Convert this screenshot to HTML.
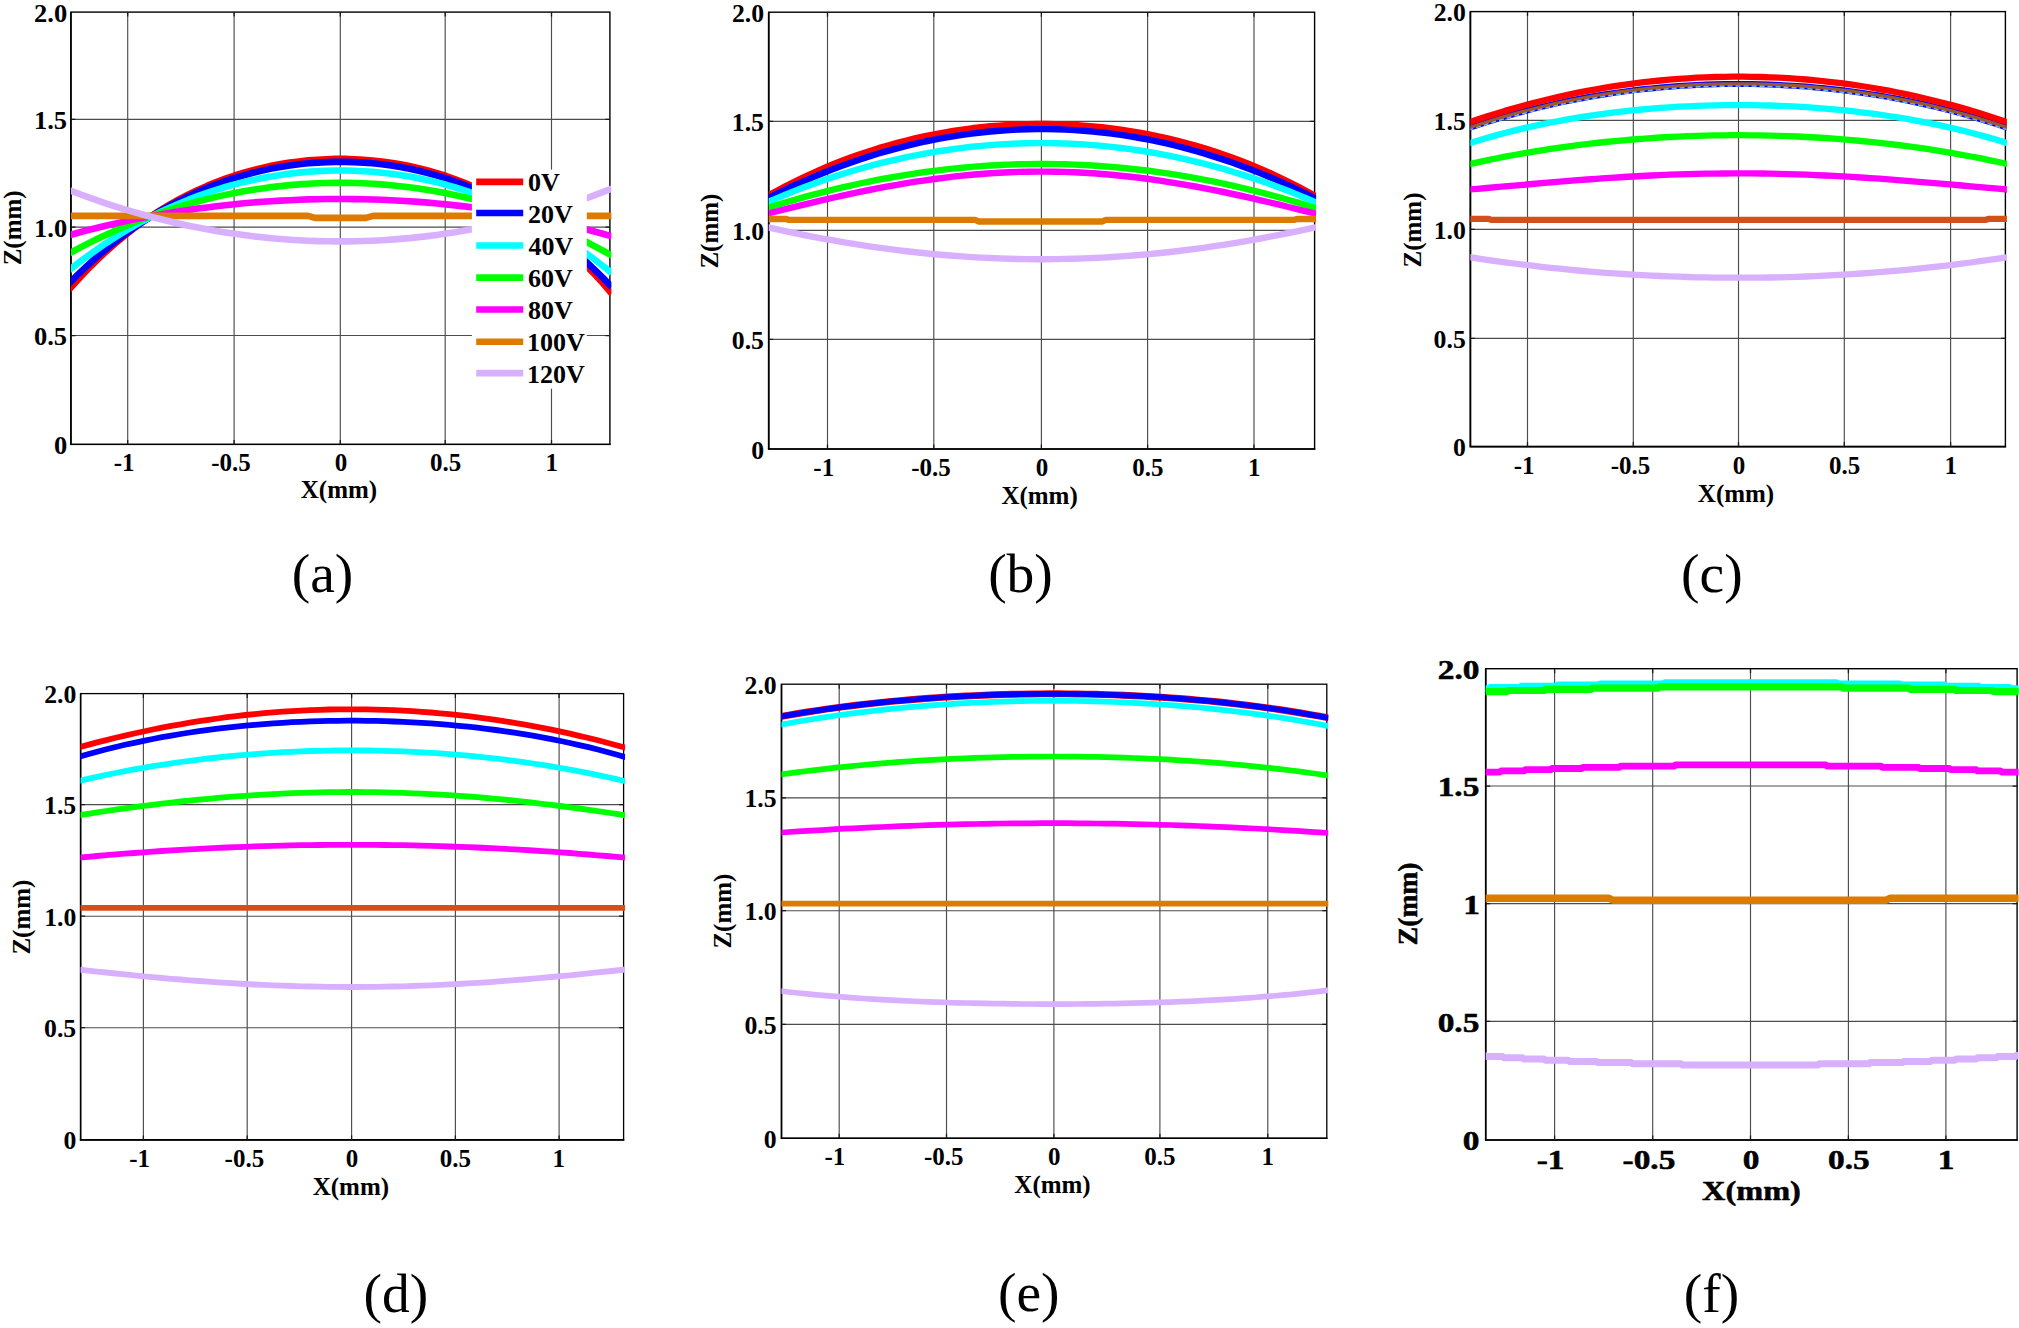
<!DOCTYPE html>
<html lang="en"><head><meta charset="utf-8"><title>Figure</title>
<style>html,body{margin:0;padding:0;background:#fff}svg{display:block}</style></head>
<body>
<svg width="2019" height="1328" viewBox="0 0 2019 1328" font-family="'Liberation Serif', 'Times New Roman', serif" style="font-kerning:none" fill="#000">
<rect width="2019" height="1328" fill="#fff"/>
<g id="pa">
<clipPath id="ca"><rect x="70.9" y="12.1" width="540.5" height="432.3"/></clipPath>
<path d="M127.7 12.1V444.4M234.1 12.1V444.4M340.3 12.1V444.4M445.2 12.1V444.4M551.5 12.1V444.4M70.9 119.3H609.9M70.9 227.1H609.9M70.9 335.5H609.9" stroke="#4c4c4c" stroke-width="1.15" fill="none"/>
<rect x="70.9" y="12.1" width="539.0" height="432.3" fill="none" stroke="#000" stroke-width="1.4"/>
<path d="M70.9 12.1V444.4" stroke="#000" stroke-width="1.6" fill="none"/><path d="M70.1 444.4H610.6" stroke="#000" stroke-width="1.4" fill="none"/>
<path d="M127.7 444.4v-4.5M127.7 12.1v4.5M234.1 444.4v-4.5M234.1 12.1v4.5M340.3 444.4v-4.5M340.3 12.1v4.5M445.2 444.4v-4.5M445.2 12.1v4.5M551.5 444.4v-4.5M551.5 12.1v4.5M70.9 119.3h4.5M609.9 119.3h-4.5M70.9 227.1h4.5M609.9 227.1h-4.5M70.9 335.5h4.5M609.9 335.5h-4.5" stroke="#1a1a1a" stroke-width="1.25" fill="none"/>
<g clip-path="url(#ca)" fill="none" stroke-linejoin="round">
<path d="M68.9 289.7 L78.1 279.5 L87.3 269.7 L96.5 260.6 L105.7 251.9 L114.9 243.8 L124.1 236.1 L133.3 228.9 L142.5 222.1 L151.7 215.8 L160.9 209.9 L170.1 204.4 L179.3 199.2 L188.5 194.4 L197.7 190.0 L207.0 185.9 L216.2 182.1 L225.4 178.7 L234.6 175.5 L243.8 172.7 L253.0 170.1 L262.2 167.9 L271.4 165.8 L280.6 164.1 L289.8 162.6 L299.0 161.4 L308.2 160.4 L317.4 159.7 L326.6 159.2 L335.8 158.9 L345.0 158.9 L354.2 159.2 L363.4 159.7 L372.6 160.5 L381.8 161.5 L391.0 162.7 L400.2 164.3 L409.4 166.1 L418.6 168.1 L427.8 170.5 L437.0 173.1 L446.2 176.0 L455.4 179.3 L464.6 182.8 L473.8 186.7 L483.1 190.9 L492.3 195.5 L501.5 200.4 L510.7 205.7 L519.9 211.4 L529.1 217.5 L538.3 224.0 L547.5 231.0 L556.7 238.4 L565.9 246.3 L575.1 254.7 L584.3 263.6 L593.5 273.1 L602.7 283.1 L611.9 293.8" stroke="#FF0000" stroke-width="6.6"/>
<path d="M68.9 283.6 L78.1 274.3 L87.3 265.6 L96.5 257.3 L105.7 249.4 L114.9 242.0 L124.1 234.9 L133.3 228.3 L142.5 222.0 L151.7 216.1 L160.9 210.6 L170.1 205.4 L179.3 200.6 L188.5 196.1 L197.7 191.8 L207.0 187.9 L216.2 184.3 L225.4 181.0 L234.6 178.0 L243.8 175.3 L253.0 172.8 L262.2 170.6 L271.4 168.6 L280.6 166.9 L289.8 165.5 L299.0 164.2 L308.2 163.3 L317.4 162.6 L326.6 162.1 L335.8 161.9 L345.0 161.9 L354.2 162.1 L363.4 162.6 L372.6 163.3 L381.8 164.3 L391.0 165.6 L400.2 167.1 L409.4 168.8 L418.6 170.8 L427.8 173.1 L437.0 175.6 L446.2 178.5 L455.4 181.6 L464.6 185.0 L473.8 188.7 L483.1 192.7 L492.3 197.0 L501.5 201.7 L510.7 206.7 L519.9 212.0 L529.1 217.7 L538.3 223.7 L547.5 230.2 L556.7 237.0 L565.9 244.3 L575.1 251.9 L584.3 260.0 L593.5 268.6 L602.7 277.6 L611.9 287.2" stroke="#0000FF" stroke-width="6.6"/>
<path d="M68.9 270.4 L78.1 263.2 L87.3 256.3 L96.5 249.7 L105.7 243.4 L114.9 237.4 L124.1 231.7 L133.3 226.3 L142.5 221.2 L151.7 216.4 L160.9 211.8 L170.1 207.5 L179.3 203.5 L188.5 199.7 L197.7 196.2 L207.0 192.9 L216.2 189.8 L225.4 187.0 L234.6 184.4 L243.8 182.1 L253.0 180.0 L262.2 178.1 L271.4 176.4 L280.6 174.9 L289.8 173.6 L299.0 172.6 L308.2 171.8 L317.4 171.1 L326.6 170.7 L335.8 170.5 L345.0 170.5 L354.2 170.7 L363.4 171.2 L372.6 171.8 L381.8 172.7 L391.0 173.7 L400.2 175.0 L409.4 176.5 L418.6 178.3 L427.8 180.2 L437.0 182.4 L446.2 184.8 L455.4 187.5 L464.6 190.4 L473.8 193.5 L483.1 196.9 L492.3 200.5 L501.5 204.4 L510.7 208.5 L519.9 213.0 L529.1 217.6 L538.3 222.6 L547.5 227.9 L556.7 233.4 L565.9 239.2 L575.1 245.4 L584.3 251.9 L593.5 258.7 L602.7 265.8 L611.9 273.3" stroke="#00FFFF" stroke-width="6.6"/>
<path d="M68.9 253.7 L78.1 248.7 L87.3 243.9 L96.5 239.3 L105.7 234.9 L114.9 230.7 L124.1 226.7 L133.3 222.9 L142.5 219.3 L151.7 215.9 L160.9 212.6 L170.1 209.6 L179.3 206.7 L188.5 204.0 L197.7 201.5 L207.0 199.1 L216.2 196.9 L225.4 194.9 L234.6 193.0 L243.8 191.3 L253.0 189.8 L262.2 188.4 L271.4 187.1 L280.6 186.1 L289.8 185.1 L299.0 184.4 L308.2 183.8 L317.4 183.3 L326.6 183.0 L335.8 182.9 L345.0 182.9 L354.2 183.0 L363.4 183.3 L372.6 183.8 L381.8 184.4 L391.0 185.2 L400.2 186.2 L409.4 187.3 L418.6 188.5 L427.8 190.0 L437.0 191.5 L446.2 193.3 L455.4 195.2 L464.6 197.3 L473.8 199.5 L483.1 202.0 L492.3 204.6 L501.5 207.4 L510.7 210.3 L519.9 213.5 L529.1 216.8 L538.3 220.3 L547.5 224.0 L556.7 227.9 L565.9 232.0 L575.1 236.3 L584.3 240.8 L593.5 245.6 L602.7 250.5 L611.9 255.6" stroke="#00FF00" stroke-width="6.6"/>
<path d="M68.9 235.3 L78.1 232.8 L87.3 230.3 L96.5 228.0 L105.7 225.8 L114.9 223.6 L124.1 221.6 L133.3 219.6 L142.5 217.8 L151.7 216.0 L160.9 214.4 L170.1 212.8 L179.3 211.3 L188.5 209.9 L197.7 208.6 L207.0 207.4 L216.2 206.2 L225.4 205.2 L234.6 204.2 L243.8 203.3 L253.0 202.5 L262.2 201.8 L271.4 201.2 L280.6 200.6 L289.8 200.2 L299.0 199.8 L308.2 199.4 L317.4 199.2 L326.6 199.0 L335.8 199.0 L345.0 199.0 L354.2 199.1 L363.4 199.2 L372.6 199.5 L381.8 199.8 L391.0 200.2 L400.2 200.7 L409.4 201.3 L418.6 201.9 L427.8 202.6 L437.0 203.5 L446.2 204.4 L455.4 205.4 L464.6 206.4 L473.8 207.6 L483.1 208.9 L492.3 210.2 L501.5 211.6 L510.7 213.2 L519.9 214.8 L529.1 216.5 L538.3 218.3 L547.5 220.2 L556.7 222.2 L565.9 224.3 L575.1 226.5 L584.3 228.8 L593.5 231.2 L602.7 233.7 L611.9 236.3" stroke="#FF00FF" stroke-width="6.6"/>
<path d="M60.0 215.9 L308.0 215.9 L315.0 217.9 L366.0 217.9 L373.0 215.9 L620.0 215.9" stroke="#DD7A00" stroke-width="6.6"/>
<path d="M68.9 190.0 L78.1 193.5 L87.3 196.9 L96.5 200.1 L105.7 203.3 L114.9 206.3 L124.1 209.1 L133.3 211.9 L142.5 214.5 L151.7 217.0 L160.9 219.3 L170.1 221.5 L179.3 223.7 L188.5 225.7 L197.7 227.5 L207.0 229.3 L216.2 230.9 L225.4 232.4 L234.6 233.8 L243.8 235.1 L253.0 236.2 L262.2 237.3 L271.4 238.2 L280.6 239.0 L289.8 239.7 L299.0 240.3 L308.2 240.7 L317.4 241.1 L326.6 241.3 L335.8 241.4 L345.0 241.4 L354.2 241.3 L363.4 241.0 L372.6 240.7 L381.8 240.2 L391.0 239.6 L400.2 238.9 L409.4 238.1 L418.6 237.1 L427.8 236.1 L437.0 234.9 L446.2 233.6 L455.4 232.2 L464.6 230.6 L473.8 228.9 L483.1 227.1 L492.3 225.2 L501.5 223.2 L510.7 221.0 L519.9 218.7 L529.1 216.3 L538.3 213.8 L547.5 211.1 L556.7 208.3 L565.9 205.3 L575.1 202.3 L584.3 199.1 L593.5 195.7 L602.7 192.2 L611.9 188.6" stroke="#D9B0FF" stroke-width="6.6"/>
</g>
<rect x="471.9" y="169.6" width="114.9" height="219.1" fill="#fff"/><path d="M476.2 181.9H523.2" stroke="#FF0000" stroke-width="6.6" fill="none"/><path d="M476.2 213.0H523.2" stroke="#0000FF" stroke-width="6.6" fill="none"/><path d="M476.2 245.5H523.2" stroke="#00FFFF" stroke-width="6.6" fill="none"/><path d="M476.2 277.6H523.2" stroke="#00FF00" stroke-width="6.6" fill="none"/><path d="M476.2 309.5H523.2" stroke="#FF00FF" stroke-width="6.6" fill="none"/><path d="M476.2 341.8H523.2" stroke="#DD7A00" stroke-width="6.6" fill="none"/><path d="M476.2 373.1H523.2" stroke="#D9B0FF" stroke-width="6.6" fill="none"/>
<text transform="translate(113.65 471.00)" font-size="25" font-weight="bold">-1</text>
<text transform="translate(211.29 471.00)" font-size="25" font-weight="bold">-0.5</text>
<text transform="translate(334.75 471.00)" font-size="25" font-weight="bold">0</text>
<text transform="translate(430.01 471.00)" font-size="25" font-weight="bold">0.5</text>
<text transform="translate(545.58 471.00)" font-size="25" font-weight="bold">1</text>
<text transform="translate(34.03 21.65) scale(1.0600 1.0000)" font-size="25" font-weight="bold">2.0</text>
<text transform="translate(33.90 128.85) scale(1.0600 1.0000)" font-size="25" font-weight="bold">1.5</text>
<text transform="translate(34.03 236.60) scale(1.0600 1.0000)" font-size="25" font-weight="bold">1.0</text>
<text transform="translate(33.90 345.05) scale(1.0600 1.0000)" font-size="25" font-weight="bold">0.5</text>
<text transform="translate(53.91 453.95) scale(1.0600 1.0000)" font-size="25" font-weight="bold">0</text>
<text transform="translate(300.82 498.00)" font-size="25" font-weight="bold">X(mm)</text>
<text transform="translate(21.20 265.30) rotate(-90)" font-size="25" font-weight="bold">Z(mm)</text>
<text transform="translate(291.70 592.40)" font-size="55.5" font-weight="normal">(a)</text>
</g>
<text transform="translate(527.96 190.50)" font-size="26" font-weight="bold">0V</text>
<text transform="translate(527.96 222.65)" font-size="26" font-weight="bold">20V</text>
<text transform="translate(528.61 254.80)" font-size="26" font-weight="bold">40V</text>
<text transform="translate(528.09 286.95)" font-size="26" font-weight="bold">60V</text>
<text transform="translate(528.09 319.10)" font-size="26" font-weight="bold">80V</text>
<text transform="translate(526.92 351.25)" font-size="26" font-weight="bold">100V</text>
<text transform="translate(526.92 383.40)" font-size="26" font-weight="bold">120V</text>
<g id="pb">
<clipPath id="cb"><rect x="768.7" y="12.2" width="547.4" height="436.8"/></clipPath>
<path d="M827.5 12.2V449.0M933.8 12.2V449.0M1041.4 12.2V449.0M1147.6 12.2V449.0M1254.0 12.2V449.0M768.7 121.3H1314.6M768.7 230.4H1314.6M768.7 339.3H1314.6" stroke="#4c4c4c" stroke-width="1.15" fill="none"/>
<rect x="768.7" y="12.2" width="545.9" height="436.8" fill="none" stroke="#000" stroke-width="1.4"/>
<path d="M768.7 12.2V449.0" stroke="#000" stroke-width="1.7" fill="none"/><path d="M767.9 449.0H1315.3" stroke="#000" stroke-width="1.7" fill="none"/>
<path d="M827.5 449.0v-4.5M827.5 12.2v4.5M933.8 449.0v-4.5M933.8 12.2v4.5M1041.4 449.0v-4.5M1041.4 12.2v4.5M1147.6 449.0v-4.5M1147.6 12.2v4.5M1254.0 449.0v-4.5M1254.0 12.2v4.5M768.7 121.3h4.5M1314.6 121.3h-4.5M768.7 230.4h4.5M1314.6 230.4h-4.5M768.7 339.3h4.5M1314.6 339.3h-4.5" stroke="#1a1a1a" stroke-width="1.25" fill="none"/>
<g clip-path="url(#cb)" fill="none" stroke-linejoin="round">
<path d="M766.7 196.5 L776.0 191.3 L785.3 186.4 L794.7 181.6 L804.0 177.1 L813.3 172.8 L822.6 168.7 L831.9 164.8 L841.3 161.1 L850.6 157.6 L859.9 154.3 L869.2 151.2 L878.5 148.2 L887.9 145.5 L897.2 142.9 L906.5 140.5 L915.8 138.2 L925.1 136.2 L934.5 134.3 L943.8 132.6 L953.1 131.0 L962.4 129.6 L971.7 128.3 L981.1 127.2 L990.4 126.3 L999.7 125.6 L1009.0 124.9 L1018.3 124.5 L1027.7 124.2 L1037.0 124.0 L1046.3 124.0 L1055.6 124.2 L1065.0 124.5 L1074.3 125.0 L1083.6 125.6 L1092.9 126.4 L1102.2 127.3 L1111.6 128.4 L1120.9 129.7 L1130.2 131.1 L1139.5 132.6 L1148.8 134.4 L1158.2 136.3 L1167.5 138.4 L1176.8 140.6 L1186.1 143.0 L1195.4 145.6 L1204.8 148.4 L1214.1 151.3 L1223.4 154.5 L1232.7 157.8 L1242.0 161.3 L1251.4 165.0 L1260.7 168.9 L1270.0 173.0 L1279.3 177.4 L1288.6 181.9 L1298.0 186.6 L1307.3 191.6 L1316.6 196.8" stroke="#FF0000" stroke-width="6.4"/>
<path d="M766.7 198.7 L776.0 194.1 L785.3 189.6 L794.7 185.2 L804.0 181.1 L813.3 177.1 L822.6 173.2 L831.9 169.5 L841.3 166.0 L850.6 162.7 L859.9 159.5 L869.2 156.4 L878.5 153.5 L887.9 150.8 L897.2 148.3 L906.5 145.9 L915.8 143.6 L925.1 141.5 L934.5 139.6 L943.8 137.9 L953.1 136.3 L962.4 134.8 L971.7 133.6 L981.1 132.5 L990.4 131.5 L999.7 130.7 L1009.0 130.1 L1018.3 129.6 L1027.7 129.3 L1037.0 129.1 L1046.3 129.1 L1055.6 129.3 L1065.0 129.6 L1074.3 130.1 L1083.6 130.7 L1092.9 131.6 L1102.2 132.5 L1111.6 133.6 L1120.9 134.9 L1130.2 136.4 L1139.5 138.0 L1148.8 139.7 L1158.2 141.7 L1167.5 143.7 L1176.8 146.0 L1186.1 148.4 L1195.4 151.0 L1204.8 153.7 L1214.1 156.6 L1223.4 159.6 L1232.7 162.8 L1242.0 166.2 L1251.4 169.7 L1260.7 173.4 L1270.0 177.3 L1279.3 181.3 L1288.6 185.5 L1298.0 189.8 L1307.3 194.3 L1316.6 199.0" stroke="#0000FF" stroke-width="6.4"/>
<path d="M766.7 202.6 L776.0 198.6 L785.3 194.7 L794.7 190.9 L804.0 187.3 L813.3 183.9 L822.6 180.6 L831.9 177.4 L841.3 174.4 L850.6 171.5 L859.9 168.8 L869.2 166.2 L878.5 163.7 L887.9 161.4 L897.2 159.3 L906.5 157.2 L915.8 155.3 L925.1 153.6 L934.5 151.9 L943.8 150.5 L953.1 149.1 L962.4 147.9 L971.7 146.8 L981.1 145.9 L990.4 145.1 L999.7 144.4 L1009.0 143.9 L1018.3 143.5 L1027.7 143.2 L1037.0 143.1 L1046.3 143.1 L1055.6 143.2 L1065.0 143.5 L1074.3 143.9 L1083.6 144.4 L1092.9 145.1 L1102.2 145.9 L1111.6 146.9 L1120.9 148.0 L1130.2 149.2 L1139.5 150.5 L1148.8 152.0 L1158.2 153.7 L1167.5 155.4 L1176.8 157.3 L1186.1 159.4 L1195.4 161.6 L1204.8 163.9 L1214.1 166.3 L1223.4 168.9 L1232.7 171.7 L1242.0 174.6 L1251.4 177.6 L1260.7 180.7 L1270.0 184.1 L1279.3 187.5 L1288.6 191.1 L1298.0 194.9 L1307.3 198.8 L1316.6 202.8" stroke="#00FFFF" stroke-width="6.4"/>
<path d="M766.7 208.2 L776.0 205.3 L785.3 202.5 L794.7 199.8 L804.0 197.2 L813.3 194.7 L822.6 192.3 L831.9 189.9 L841.3 187.7 L850.6 185.6 L859.9 183.5 L869.2 181.6 L878.5 179.7 L887.9 178.0 L897.2 176.3 L906.5 174.8 L915.8 173.4 L925.1 172.0 L934.5 170.8 L943.8 169.6 L953.1 168.6 L962.4 167.7 L971.7 166.9 L981.1 166.1 L990.4 165.5 L999.7 165.0 L1009.0 164.6 L1018.3 164.3 L1027.7 164.1 L1037.0 164.0 L1046.3 164.0 L1055.6 164.1 L1065.0 164.3 L1074.3 164.6 L1083.6 165.0 L1092.9 165.5 L1102.2 166.2 L1111.6 166.9 L1120.9 167.7 L1130.2 168.7 L1139.5 169.7 L1148.8 170.8 L1158.2 172.1 L1167.5 173.4 L1176.8 174.9 L1186.1 176.4 L1195.4 178.1 L1204.8 179.8 L1214.1 181.7 L1223.4 183.6 L1232.7 185.7 L1242.0 187.8 L1251.4 190.1 L1260.7 192.4 L1270.0 194.8 L1279.3 197.4 L1288.6 200.0 L1298.0 202.7 L1307.3 205.5 L1316.6 208.4" stroke="#00FF00" stroke-width="6.4"/>
<path d="M766.7 213.8 L776.0 211.5 L785.3 209.2 L794.7 206.9 L804.0 204.6 L813.3 202.4 L822.6 200.2 L831.9 198.0 L841.3 195.9 L850.6 193.9 L859.9 191.9 L869.2 190.0 L878.5 188.2 L887.9 186.4 L897.2 184.8 L906.5 183.2 L915.8 181.7 L925.1 180.3 L934.5 179.0 L943.8 177.8 L953.1 176.6 L962.4 175.6 L971.7 174.7 L981.1 174.0 L990.4 173.3 L999.7 172.7 L1009.0 172.3 L1018.3 171.9 L1027.7 171.7 L1037.0 171.6 L1046.3 171.6 L1055.6 171.7 L1065.0 171.9 L1074.3 172.3 L1083.6 172.7 L1092.9 173.3 L1102.2 174.0 L1111.6 174.8 L1120.9 175.7 L1130.2 176.7 L1139.5 177.8 L1148.8 179.0 L1158.2 180.3 L1167.5 181.8 L1176.8 183.3 L1186.1 184.8 L1195.4 186.5 L1204.8 188.3 L1214.1 190.1 L1223.4 192.0 L1232.7 194.0 L1242.0 196.0 L1251.4 198.1 L1260.7 200.3 L1270.0 202.5 L1279.3 204.7 L1288.6 207.0 L1298.0 209.3 L1307.3 211.6 L1316.6 213.9" stroke="#FF00FF" stroke-width="6.4"/>
<path d="M760.0 219.0 L786.0 219.0 L789.0 219.9 L975.0 219.9 L979.0 221.5 L1102.0 221.5 L1106.0 219.9 L1294.0 219.9 L1297.0 219.0 L1320.0 219.0" stroke="#DD7A00" stroke-width="6.4"/>
<path d="M766.7 227.1 L776.0 229.2 L785.3 231.2 L794.7 233.1 L804.0 235.0 L813.3 236.8 L822.6 238.6 L831.9 240.2 L841.3 241.9 L850.6 243.4 L859.9 244.9 L869.2 246.3 L878.5 247.6 L887.9 248.9 L897.2 250.1 L906.5 251.2 L915.8 252.3 L925.1 253.3 L934.5 254.2 L943.8 255.0 L953.1 255.8 L962.4 256.4 L971.7 257.1 L981.1 257.6 L990.4 258.0 L999.7 258.4 L1009.0 258.7 L1018.3 259.0 L1027.7 259.1 L1037.0 259.2 L1046.3 259.2 L1055.6 259.1 L1065.0 258.9 L1074.3 258.7 L1083.6 258.4 L1092.9 258.0 L1102.2 257.6 L1111.6 257.0 L1120.9 256.4 L1130.2 255.7 L1139.5 255.0 L1148.8 254.1 L1158.2 253.2 L1167.5 252.2 L1176.8 251.2 L1186.1 250.0 L1195.4 248.8 L1204.8 247.6 L1214.1 246.2 L1223.4 244.8 L1232.7 243.3 L1242.0 241.8 L1251.4 240.1 L1260.7 238.5 L1270.0 236.7 L1279.3 234.9 L1288.6 233.0 L1298.0 231.1 L1307.3 229.1 L1316.6 227.0" stroke="#D9B0FF" stroke-width="6.4"/>
</g>
<text transform="translate(813.35 475.80)" font-size="25" font-weight="bold">-1</text>
<text transform="translate(911.29 475.80)" font-size="25" font-weight="bold">-0.5</text>
<text transform="translate(1035.75 475.80)" font-size="25" font-weight="bold">0</text>
<text transform="translate(1132.31 475.80)" font-size="25" font-weight="bold">0.5</text>
<text transform="translate(1248.08 475.80)" font-size="25" font-weight="bold">1</text>
<text transform="translate(731.94 21.75) scale(1.0300 1.0000)" font-size="25" font-weight="bold">2.0</text>
<text transform="translate(731.81 130.85) scale(1.0300 1.0000)" font-size="25" font-weight="bold">1.5</text>
<text transform="translate(731.94 239.95) scale(1.0300 1.0000)" font-size="25" font-weight="bold">1.0</text>
<text transform="translate(731.81 348.85) scale(1.0300 1.0000)" font-size="25" font-weight="bold">0.5</text>
<text transform="translate(751.25 458.55) scale(1.0300 1.0000)" font-size="25" font-weight="bold">0</text>
<text transform="translate(1001.42 504.40)" font-size="25" font-weight="bold">X(mm)</text>
<text transform="translate(718.20 268.60) rotate(-90)" font-size="25" font-weight="bold">Z(mm)</text>
<text transform="translate(988.13 592.20)" font-size="55.5" font-weight="normal">(b)</text>
</g>
<g id="pc">
<clipPath id="cc"><rect x="1470.4" y="11.6" width="536.5" height="435.0"/></clipPath>
<path d="M1527.5 11.6V446.6M1633.3 11.6V446.6M1738.5 11.6V446.6M1844.3 11.6V446.6M1950.6 11.6V446.6M1470.4 120.4H2005.4M1470.4 229.3H2005.4M1470.4 338.3H2005.4" stroke="#4c4c4c" stroke-width="1.15" fill="none"/>
<rect x="1470.4" y="11.6" width="535.0" height="435.0" fill="none" stroke="#000" stroke-width="1.4"/>
<path d="M1470.4 11.6V446.6" stroke="#000" stroke-width="1.7" fill="none"/><path d="M1469.6 446.6H2006.1" stroke="#000" stroke-width="1.7" fill="none"/>
<path d="M1527.5 446.6v-4.5M1527.5 11.6v4.5M1633.3 446.6v-4.5M1633.3 11.6v4.5M1738.5 446.6v-4.5M1738.5 11.6v4.5M1844.3 446.6v-4.5M1844.3 11.6v4.5M1950.6 446.6v-4.5M1950.6 11.6v4.5M1470.4 120.4h4.5M2005.4 120.4h-4.5M1470.4 229.3h4.5M2005.4 229.3h-4.5M1470.4 338.3h4.5M2005.4 338.3h-4.5" stroke="#1a1a1a" stroke-width="1.25" fill="none"/>
<g clip-path="url(#cc)" fill="none" stroke-linejoin="round">
<path d="M1468.4 257.0 L1477.5 258.4 L1486.7 259.8 L1495.8 261.1 L1504.9 262.3 L1514.1 263.5 L1523.2 264.6 L1532.3 265.7 L1541.5 266.8 L1550.6 267.8 L1559.8 268.7 L1568.9 269.6 L1578.0 270.5 L1587.2 271.3 L1596.3 272.1 L1605.4 272.8 L1614.6 273.4 L1623.7 274.0 L1632.8 274.6 L1642.0 275.1 L1651.1 275.6 L1660.2 276.0 L1669.4 276.4 L1678.5 276.7 L1687.7 277.0 L1696.8 277.3 L1705.9 277.4 L1715.1 277.6 L1724.2 277.7 L1733.3 277.7 L1742.5 277.7 L1751.6 277.7 L1760.7 277.6 L1769.9 277.5 L1779.0 277.3 L1788.1 277.1 L1797.3 276.8 L1806.4 276.5 L1815.6 276.1 L1824.7 275.7 L1833.8 275.2 L1843.0 274.7 L1852.1 274.1 L1861.2 273.5 L1870.4 272.9 L1879.5 272.2 L1888.6 271.4 L1897.8 270.6 L1906.9 269.8 L1916.0 268.9 L1925.2 267.9 L1934.3 266.9 L1943.5 265.9 L1952.6 264.8 L1961.7 263.7 L1970.9 262.5 L1980.0 261.2 L1989.1 259.9 L1998.3 258.6 L2007.4 257.2" stroke="#D9B0FF" stroke-width="6.3"/>
<path d="M1460.0 218.8 L1488.0 218.8 L1491.0 219.8 L1986.0 219.8 L1989.0 218.8 L2010.0 218.8" stroke="#D4501A" stroke-width="6.3"/>
<path d="M1468.4 189.6 L1477.5 188.8 L1486.7 188.0 L1495.8 187.2 L1504.9 186.4 L1514.1 185.6 L1523.2 184.8 L1532.3 184.0 L1541.5 183.2 L1550.6 182.4 L1559.8 181.7 L1568.9 180.9 L1578.0 180.2 L1587.2 179.5 L1596.3 178.8 L1605.4 178.2 L1614.6 177.6 L1623.7 177.0 L1632.8 176.5 L1642.0 176.0 L1651.1 175.5 L1660.2 175.1 L1669.4 174.7 L1678.5 174.4 L1687.7 174.1 L1696.8 173.9 L1705.9 173.7 L1715.1 173.6 L1724.2 173.5 L1733.3 173.4 L1742.5 173.4 L1751.6 173.4 L1760.7 173.5 L1769.9 173.7 L1779.0 173.9 L1788.1 174.1 L1797.3 174.4 L1806.4 174.7 L1815.6 175.1 L1824.7 175.5 L1833.8 175.9 L1843.0 176.4 L1852.1 176.9 L1861.2 177.5 L1870.4 178.1 L1879.5 178.7 L1888.6 179.4 L1897.8 180.1 L1906.9 180.8 L1916.0 181.6 L1925.2 182.3 L1934.3 183.1 L1943.5 183.9 L1952.6 184.7 L1961.7 185.5 L1970.9 186.3 L1980.0 187.1 L1989.1 187.9 L1998.3 188.7 L2007.4 189.5" stroke="#FF00FF" stroke-width="6.3"/>
<path d="M1468.4 164.3 L1477.5 162.3 L1486.7 160.3 L1495.8 158.5 L1504.9 156.7 L1514.1 155.0 L1523.2 153.4 L1532.3 151.8 L1541.5 150.3 L1550.6 148.9 L1559.8 147.6 L1568.9 146.3 L1578.0 145.2 L1587.2 144.0 L1596.3 143.0 L1605.4 142.0 L1614.6 141.1 L1623.7 140.3 L1632.8 139.5 L1642.0 138.8 L1651.1 138.1 L1660.2 137.5 L1669.4 137.0 L1678.5 136.6 L1687.7 136.2 L1696.8 135.9 L1705.9 135.6 L1715.1 135.4 L1724.2 135.3 L1733.3 135.2 L1742.5 135.2 L1751.6 135.3 L1760.7 135.4 L1769.9 135.6 L1779.0 135.8 L1788.1 136.1 L1797.3 136.5 L1806.4 137.0 L1815.6 137.5 L1824.7 138.0 L1833.8 138.7 L1843.0 139.4 L1852.1 140.1 L1861.2 141.0 L1870.4 141.9 L1879.5 142.9 L1888.6 143.9 L1897.8 145.0 L1906.9 146.2 L1916.0 147.4 L1925.2 148.7 L1934.3 150.1 L1943.5 151.6 L1952.6 153.2 L1961.7 154.8 L1970.9 156.5 L1980.0 158.2 L1989.1 160.1 L1998.3 162.0 L2007.4 164.0" stroke="#00FF00" stroke-width="6.3"/>
<path d="M1468.4 143.5 L1477.5 140.7 L1486.7 138.0 L1495.8 135.4 L1504.9 133.0 L1514.1 130.6 L1523.2 128.4 L1532.3 126.4 L1541.5 124.4 L1550.6 122.5 L1559.8 120.8 L1568.9 119.1 L1578.0 117.6 L1587.2 116.2 L1596.3 114.8 L1605.4 113.6 L1614.6 112.4 L1623.7 111.3 L1632.8 110.4 L1642.0 109.5 L1651.1 108.7 L1660.2 107.9 L1669.4 107.3 L1678.5 106.7 L1687.7 106.3 L1696.8 105.9 L1705.9 105.6 L1715.1 105.3 L1724.2 105.2 L1733.3 105.1 L1742.5 105.1 L1751.6 105.1 L1760.7 105.3 L1769.9 105.5 L1779.0 105.8 L1788.1 106.2 L1797.3 106.7 L1806.4 107.2 L1815.6 107.8 L1824.7 108.6 L1833.8 109.4 L1843.0 110.2 L1852.1 111.2 L1861.2 112.3 L1870.4 113.4 L1879.5 114.6 L1888.6 116.0 L1897.8 117.4 L1906.9 118.9 L1916.0 120.6 L1925.2 122.3 L1934.3 124.1 L1943.5 126.1 L1952.6 128.2 L1961.7 130.4 L1970.9 132.7 L1980.0 135.1 L1989.1 137.6 L1998.3 140.3 L2007.4 143.2" stroke="#00FFFF" stroke-width="6.3"/>
<path d="M1468.4 128.2 L1477.5 125.1 L1486.7 122.2 L1495.8 119.3 L1504.9 116.6 L1514.1 114.0 L1523.2 111.5 L1532.3 109.2 L1541.5 106.9 L1550.6 104.8 L1559.8 102.7 L1568.9 100.8 L1578.0 99.0 L1587.2 97.3 L1596.3 95.7 L1605.4 94.2 L1614.6 92.9 L1623.7 91.6 L1632.8 90.4 L1642.0 89.3 L1651.1 88.4 L1660.2 87.5 L1669.4 86.7 L1678.5 86.0 L1687.7 85.4 L1696.8 84.9 L1705.9 84.6 L1715.1 84.3 L1724.2 84.1 L1733.3 84.0 L1742.5 84.0 L1751.6 84.0 L1760.7 84.2 L1769.9 84.5 L1779.0 84.9 L1788.1 85.4 L1797.3 85.9 L1806.4 86.6 L1815.6 87.4 L1824.7 88.2 L1833.8 89.2 L1843.0 90.3 L1852.1 91.4 L1861.2 92.7 L1870.4 94.1 L1879.5 95.5 L1888.6 97.1 L1897.8 98.8 L1906.9 100.6 L1916.0 102.5 L1925.2 104.5 L1934.3 106.6 L1943.5 108.9 L1952.6 111.2 L1961.7 113.7 L1970.9 116.3 L1980.0 119.0 L1989.1 121.8 L1998.3 124.7 L2007.4 127.8" stroke="#0000FF" stroke-width="6.0"/>
<path d="M1468.4 129.8 L1477.5 126.7 L1486.7 123.8 L1495.8 120.9 L1504.9 118.2 L1514.1 115.6 L1523.2 113.1 L1532.3 110.8 L1541.5 108.5 L1550.6 106.4 L1559.8 104.3 L1568.9 102.4 L1578.0 100.6 L1587.2 98.9 L1596.3 97.3 L1605.4 95.8 L1614.6 94.5 L1623.7 93.2 L1632.8 92.0 L1642.0 90.9 L1651.1 90.0 L1660.2 89.1 L1669.4 88.3 L1678.5 87.6 L1687.7 87.0 L1696.8 86.5 L1705.9 86.2 L1715.1 85.9 L1724.2 85.7 L1733.3 85.6 L1742.5 85.6 L1751.6 85.6 L1760.7 85.8 L1769.9 86.1 L1779.0 86.5 L1788.1 87.0 L1797.3 87.5 L1806.4 88.2 L1815.6 89.0 L1824.7 89.8 L1833.8 90.8 L1843.0 91.9 L1852.1 93.0 L1861.2 94.3 L1870.4 95.7 L1879.5 97.1 L1888.6 98.7 L1897.8 100.4 L1906.9 102.2 L1916.0 104.1 L1925.2 106.1 L1934.3 108.2 L1943.5 110.5 L1952.6 112.8 L1961.7 115.3 L1970.9 117.9 L1980.0 120.6 L1989.1 123.4 L1998.3 126.3 L2007.4 129.4" stroke="#6FB4F0" stroke-width="2.4" stroke-dasharray="5 3"/>
<path d="M1468.4 128.0 L1477.5 124.9 L1486.7 122.0 L1495.8 119.1 L1504.9 116.4 L1514.1 113.8 L1523.2 111.3 L1532.3 109.0 L1541.5 106.7 L1550.6 104.6 L1559.8 102.5 L1568.9 100.6 L1578.0 98.8 L1587.2 97.1 L1596.3 95.5 L1605.4 94.0 L1614.6 92.7 L1623.7 91.4 L1632.8 90.2 L1642.0 89.1 L1651.1 88.2 L1660.2 87.3 L1669.4 86.5 L1678.5 85.8 L1687.7 85.2 L1696.8 84.7 L1705.9 84.4 L1715.1 84.1 L1724.2 83.9 L1733.3 83.8 L1742.5 83.8 L1751.6 83.8 L1760.7 84.0 L1769.9 84.3 L1779.0 84.7 L1788.1 85.2 L1797.3 85.7 L1806.4 86.4 L1815.6 87.2 L1824.7 88.0 L1833.8 89.0 L1843.0 90.1 L1852.1 91.2 L1861.2 92.5 L1870.4 93.9 L1879.5 95.3 L1888.6 96.9 L1897.8 98.6 L1906.9 100.4 L1916.0 102.3 L1925.2 104.3 L1934.3 106.4 L1943.5 108.7 L1952.6 111.0 L1961.7 113.5 L1970.9 116.1 L1980.0 118.8 L1989.1 121.6 L1998.3 124.5 L2007.4 127.6" stroke="#9C5A2C" stroke-width="3.2"/>
<path d="M1468.4 122.7 L1477.5 119.6 L1486.7 116.6 L1495.8 113.7 L1504.9 110.9 L1514.1 108.3 L1523.2 105.7 L1532.3 103.3 L1541.5 101.0 L1550.6 98.7 L1559.8 96.6 L1568.9 94.6 L1578.0 92.7 L1587.2 90.9 L1596.3 89.3 L1605.4 87.7 L1614.6 86.2 L1623.7 84.9 L1632.8 83.6 L1642.0 82.4 L1651.1 81.4 L1660.2 80.5 L1669.4 79.6 L1678.5 78.9 L1687.7 78.3 L1696.8 77.7 L1705.9 77.3 L1715.1 77.0 L1724.2 76.8 L1733.3 76.7 L1742.5 76.7 L1751.6 76.8 L1760.7 77.0 L1769.9 77.3 L1779.0 77.7 L1788.1 78.2 L1797.3 78.8 L1806.4 79.5 L1815.6 80.3 L1824.7 81.3 L1833.8 82.3 L1843.0 83.4 L1852.1 84.7 L1861.2 86.0 L1870.4 87.5 L1879.5 89.1 L1888.6 90.7 L1897.8 92.5 L1906.9 94.4 L1916.0 96.4 L1925.2 98.5 L1934.3 100.7 L1943.5 103.0 L1952.6 105.4 L1961.7 107.9 L1970.9 110.6 L1980.0 113.3 L1989.1 116.2 L1998.3 119.2 L2007.4 122.3" stroke="#FF0000" stroke-width="6.3"/>
</g>
<text transform="translate(1513.75 473.80)" font-size="25" font-weight="bold">-1</text>
<text transform="translate(1610.69 473.80)" font-size="25" font-weight="bold">-0.5</text>
<text transform="translate(1732.75 473.80)" font-size="25" font-weight="bold">0</text>
<text transform="translate(1829.01 473.80)" font-size="25" font-weight="bold">0.5</text>
<text transform="translate(1944.58 473.80)" font-size="25" font-weight="bold">1</text>
<text transform="translate(1433.74 21.15) scale(1.0300 1.0000)" font-size="25" font-weight="bold">2.0</text>
<text transform="translate(1433.61 129.95) scale(1.0300 1.0000)" font-size="25" font-weight="bold">1.5</text>
<text transform="translate(1433.74 238.85) scale(1.0300 1.0000)" font-size="25" font-weight="bold">1.0</text>
<text transform="translate(1433.61 347.85) scale(1.0300 1.0000)" font-size="25" font-weight="bold">0.5</text>
<text transform="translate(1453.06 456.15) scale(1.0300 1.0000)" font-size="25" font-weight="bold">0</text>
<text transform="translate(1697.83 502.00)" font-size="25" font-weight="bold">X(mm)</text>
<text transform="translate(1421.20 267.50) rotate(-90)" font-size="25" font-weight="bold">Z(mm)</text>
<text transform="translate(1681.10 591.60)" font-size="55.5" font-weight="normal">(c)</text>
</g>
<g id="pd">
<clipPath id="cd"><rect x="80.6" y="693.6" width="544.5" height="446.3"/></clipPath>
<path d="M143.4 693.6V1139.9M247.2 693.6V1139.9M351.6 693.6V1139.9M455.4 693.6V1139.9M559.1 693.6V1139.9M80.6 804.6H623.6M80.6 916.2H623.6M80.6 1027.7H623.6" stroke="#4c4c4c" stroke-width="1.15" fill="none"/>
<rect x="80.6" y="693.6" width="543.0" height="446.3" fill="none" stroke="#000" stroke-width="1.3"/>
<path d="M80.6 693.6V1139.9" stroke="#000" stroke-width="1.5" fill="none"/><path d="M79.8 1139.9H624.3" stroke="#000" stroke-width="1.9" fill="none"/>
<path d="M143.4 1139.9v-4.5M143.4 693.6v4.5M247.2 1139.9v-4.5M247.2 693.6v4.5M351.6 1139.9v-4.5M351.6 693.6v4.5M455.4 1139.9v-4.5M455.4 693.6v4.5M559.1 1139.9v-4.5M559.1 693.6v4.5M80.6 804.6h4.5M623.6 804.6h-4.5M80.6 916.2h4.5M623.6 916.2h-4.5M80.6 1027.7h4.5M623.6 1027.7h-4.5" stroke="#1a1a1a" stroke-width="1.25" fill="none"/>
<g clip-path="url(#cd)" fill="none" stroke-linejoin="round">
<path d="M78.6 969.6 L87.9 970.6 L97.1 971.6 L106.4 972.5 L115.7 973.5 L125.0 974.4 L134.2 975.4 L143.5 976.3 L152.8 977.1 L162.0 978.0 L171.3 978.8 L180.6 979.5 L189.9 980.3 L199.1 981.0 L208.4 981.7 L217.7 982.3 L226.9 982.9 L236.2 983.5 L245.5 984.0 L254.8 984.5 L264.0 984.9 L273.3 985.3 L282.6 985.7 L291.8 986.0 L301.1 986.3 L310.4 986.5 L319.7 986.7 L328.9 986.8 L338.2 986.9 L347.5 987.0 L356.7 987.0 L366.0 986.9 L375.3 986.8 L384.5 986.7 L393.8 986.5 L403.1 986.3 L412.4 986.0 L421.6 985.7 L430.9 985.3 L440.2 984.9 L449.4 984.4 L458.7 984.0 L468.0 983.4 L477.3 982.9 L486.5 982.3 L495.8 981.6 L505.1 980.9 L514.3 980.2 L523.6 979.5 L532.9 978.7 L542.2 977.9 L551.4 977.0 L560.7 976.2 L570.0 975.3 L579.2 974.3 L588.5 973.4 L597.8 972.4 L607.1 971.5 L616.3 970.5 L625.6 969.5" stroke="#D9B0FF" stroke-width="5.8"/>
<path d="M70.0 907.8 L630.0 907.8" stroke="#D4501A" stroke-width="5.8"/>
<path d="M78.6 747.4 L87.9 744.9 L97.1 742.4 L106.4 740.1 L115.7 737.8 L125.0 735.6 L134.2 733.5 L143.5 731.5 L152.8 729.5 L162.0 727.7 L171.3 725.9 L180.6 724.3 L189.9 722.7 L199.1 721.2 L208.4 719.8 L217.7 718.5 L226.9 717.2 L236.2 716.1 L245.5 715.0 L254.8 714.1 L264.0 713.2 L273.3 712.4 L282.6 711.7 L291.8 711.1 L301.1 710.6 L310.4 710.2 L319.7 709.8 L328.9 709.5 L338.2 709.4 L347.5 709.3 L356.7 709.3 L366.0 709.4 L375.3 709.6 L384.5 709.8 L393.8 710.2 L403.1 710.6 L412.4 711.2 L421.6 711.8 L430.9 712.5 L440.2 713.3 L449.4 714.2 L458.7 715.2 L468.0 716.2 L477.3 717.4 L486.5 718.6 L495.8 719.9 L505.1 721.3 L514.3 722.8 L523.6 724.4 L532.9 726.1 L542.2 727.9 L551.4 729.7 L560.7 731.7 L570.0 733.7 L579.2 735.8 L588.5 738.0 L597.8 740.3 L607.1 742.7 L616.3 745.2 L625.6 747.7" stroke="#FF0000" stroke-width="5.8"/>
<path d="M78.6 756.9 L87.9 754.2 L97.1 751.7 L106.4 749.3 L115.7 747.0 L125.0 744.8 L134.2 742.8 L143.5 740.8 L152.8 739.0 L162.0 737.2 L171.3 735.6 L180.6 734.0 L189.9 732.5 L199.1 731.2 L208.4 729.9 L217.7 728.7 L226.9 727.6 L236.2 726.6 L245.5 725.7 L254.8 724.8 L264.0 724.1 L273.3 723.4 L282.6 722.8 L291.8 722.2 L301.1 721.8 L310.4 721.4 L319.7 721.1 L328.9 720.9 L338.2 720.8 L347.5 720.7 L356.7 720.7 L366.0 720.8 L375.3 720.9 L384.5 721.1 L393.8 721.5 L403.1 721.8 L412.4 722.3 L421.6 722.8 L430.9 723.4 L440.2 724.1 L449.4 724.9 L458.7 725.8 L468.0 726.7 L477.3 727.7 L486.5 728.8 L495.8 730.0 L505.1 731.3 L514.3 732.7 L523.6 734.2 L532.9 735.7 L542.2 737.4 L551.4 739.2 L560.7 741.0 L570.0 743.0 L579.2 745.1 L588.5 747.2 L597.8 749.5 L607.1 752.0 L616.3 754.5 L625.6 757.2" stroke="#0000FF" stroke-width="5.8"/>
<path d="M78.6 781.0 L87.9 778.9 L97.1 776.8 L106.4 774.9 L115.7 773.0 L125.0 771.2 L134.2 769.4 L143.5 767.8 L152.8 766.2 L162.0 764.8 L171.3 763.3 L180.6 762.0 L189.9 760.8 L199.1 759.6 L208.4 758.5 L217.7 757.5 L226.9 756.5 L236.2 755.6 L245.5 754.8 L254.8 754.1 L264.0 753.4 L273.3 752.8 L282.6 752.2 L291.8 751.8 L301.1 751.4 L310.4 751.0 L319.7 750.8 L328.9 750.6 L338.2 750.4 L347.5 750.4 L356.7 750.4 L366.0 750.5 L375.3 750.6 L384.5 750.8 L393.8 751.1 L403.1 751.4 L412.4 751.8 L421.6 752.3 L430.9 752.8 L440.2 753.4 L449.4 754.1 L458.7 754.9 L468.0 755.7 L477.3 756.6 L486.5 757.6 L495.8 758.6 L505.1 759.7 L514.3 760.9 L523.6 762.2 L532.9 763.5 L542.2 764.9 L551.4 766.4 L560.7 768.0 L570.0 769.6 L579.2 771.3 L588.5 773.2 L597.8 775.1 L607.1 777.0 L616.3 779.1 L625.6 781.3" stroke="#00FFFF" stroke-width="5.8"/>
<path d="M78.6 815.2 L87.9 813.8 L97.1 812.4 L106.4 811.0 L115.7 809.7 L125.0 808.4 L134.2 807.1 L143.5 805.9 L152.8 804.8 L162.0 803.6 L171.3 802.6 L180.6 801.5 L189.9 800.6 L199.1 799.6 L208.4 798.8 L217.7 797.9 L226.9 797.2 L236.2 796.4 L245.5 795.8 L254.8 795.1 L264.0 794.6 L273.3 794.1 L282.6 793.6 L291.8 793.2 L301.1 792.9 L310.4 792.6 L319.7 792.4 L328.9 792.2 L338.2 792.1 L347.5 792.0 L356.7 792.0 L366.0 792.1 L375.3 792.2 L384.5 792.4 L393.8 792.6 L403.1 792.9 L412.4 793.3 L421.6 793.7 L430.9 794.1 L440.2 794.6 L449.4 795.2 L458.7 795.8 L468.0 796.5 L477.3 797.2 L486.5 798.0 L495.8 798.8 L505.1 799.7 L514.3 800.7 L523.6 801.6 L532.9 802.7 L542.2 803.8 L551.4 804.9 L560.7 806.0 L570.0 807.3 L579.2 808.5 L588.5 809.8 L597.8 811.1 L607.1 812.5 L616.3 813.9 L625.6 815.4" stroke="#00FF00" stroke-width="5.8"/>
<path d="M78.6 857.6 L87.9 856.8 L97.1 856.0 L106.4 855.2 L115.7 854.4 L125.0 853.7 L134.2 853.0 L143.5 852.3 L152.8 851.6 L162.0 851.0 L171.3 850.4 L180.6 849.9 L189.9 849.3 L199.1 848.8 L208.4 848.4 L217.7 847.9 L226.9 847.5 L236.2 847.1 L245.5 846.8 L254.8 846.4 L264.0 846.1 L273.3 845.9 L282.6 845.6 L291.8 845.4 L301.1 845.2 L310.4 845.1 L319.7 845.0 L328.9 844.9 L338.2 844.8 L347.5 844.8 L356.7 844.8 L366.0 844.8 L375.3 844.9 L384.5 845.0 L393.8 845.1 L403.1 845.2 L412.4 845.4 L421.6 845.6 L430.9 845.9 L440.2 846.2 L449.4 846.5 L458.7 846.8 L468.0 847.1 L477.3 847.5 L486.5 848.0 L495.8 848.4 L505.1 848.9 L514.3 849.4 L523.6 849.9 L532.9 850.5 L542.2 851.1 L551.4 851.7 L560.7 852.4 L570.0 853.0 L579.2 853.8 L588.5 854.5 L597.8 855.3 L607.1 856.0 L616.3 856.9 L625.6 857.7" stroke="#FF00FF" stroke-width="5.8"/>
</g>
<text transform="translate(129.15 1167.20)" font-size="25" font-weight="bold">-1</text>
<text transform="translate(224.59 1167.20)" font-size="25" font-weight="bold">-0.5</text>
<text transform="translate(345.75 1167.20)" font-size="25" font-weight="bold">0</text>
<text transform="translate(439.81 1167.20)" font-size="25" font-weight="bold">0.5</text>
<text transform="translate(552.48 1167.20)" font-size="25" font-weight="bold">1</text>
<text transform="translate(44.14 703.15) scale(1.0300 1.0000)" font-size="25" font-weight="bold">2.0</text>
<text transform="translate(44.01 814.15) scale(1.0300 1.0000)" font-size="25" font-weight="bold">1.5</text>
<text transform="translate(44.14 925.75) scale(1.0300 1.0000)" font-size="25" font-weight="bold">1.0</text>
<text transform="translate(44.01 1037.25) scale(1.0300 1.0000)" font-size="25" font-weight="bold">0.5</text>
<text transform="translate(63.45 1149.45) scale(1.0300 1.0000)" font-size="25" font-weight="bold">0</text>
<text transform="translate(312.73 1194.70)" font-size="25" font-weight="bold">X(mm)</text>
<text transform="translate(30.40 954.60) rotate(-90)" font-size="25" font-weight="bold">Z(mm)</text>
<text transform="translate(363.53 1311.50)" font-size="55.5" font-weight="normal">(d)</text>
</g>
<g id="pe">
<clipPath id="ce"><rect x="781.5" y="684.2" width="546.8" height="454.1"/></clipPath>
<path d="M839.2 684.2V1138.3M946.5 684.2V1138.3M1053.9 684.2V1138.3M1159.9 684.2V1138.3M1267.8 684.2V1138.3M781.5 797.8H1326.8M781.5 910.7H1326.8M781.5 1024.3H1326.8" stroke="#4c4c4c" stroke-width="1.15" fill="none"/>
<rect x="781.5" y="684.2" width="545.3" height="454.1" fill="none" stroke="#000" stroke-width="1.3"/>
<path d="M781.5 684.2V1138.3" stroke="#000" stroke-width="1.6" fill="none"/><path d="M780.7 1138.3H1327.5" stroke="#000" stroke-width="1.4" fill="none"/>
<path d="M839.2 1138.3v-4.5M839.2 684.2v4.5M946.5 1138.3v-4.5M946.5 684.2v4.5M1053.9 1138.3v-4.5M1053.9 684.2v4.5M1159.9 1138.3v-4.5M1159.9 684.2v4.5M1267.8 1138.3v-4.5M1267.8 684.2v4.5M781.5 797.8h4.5M1326.8 797.8h-4.5M781.5 910.7h4.5M1326.8 910.7h-4.5M781.5 1024.3h4.5M1326.8 1024.3h-4.5" stroke="#1a1a1a" stroke-width="1.25" fill="none"/>
<g clip-path="url(#ce)" fill="none" stroke-linejoin="round">
<path d="M779.5 990.9 L788.8 992.0 L798.1 993.0 L807.4 993.9 L816.7 994.8 L826.1 995.6 L835.4 996.4 L844.7 997.1 L854.0 997.8 L863.3 998.5 L872.6 999.1 L881.9 999.6 L891.2 1000.1 L900.5 1000.6 L909.8 1001.0 L919.2 1001.5 L928.5 1001.8 L937.8 1002.2 L947.1 1002.5 L956.4 1002.8 L965.7 1003.0 L975.0 1003.2 L984.3 1003.4 L993.6 1003.6 L1002.9 1003.7 L1012.3 1003.9 L1021.6 1004.0 L1030.9 1004.0 L1040.2 1004.1 L1049.5 1004.1 L1058.8 1004.1 L1068.1 1004.1 L1077.4 1004.0 L1086.7 1003.9 L1096.0 1003.8 L1105.4 1003.7 L1114.7 1003.6 L1124.0 1003.4 L1133.3 1003.2 L1142.6 1002.9 L1151.9 1002.7 L1161.2 1002.4 L1170.5 1002.1 L1179.8 1001.7 L1189.1 1001.3 L1198.5 1000.9 L1207.8 1000.4 L1217.1 999.9 L1226.4 999.4 L1235.7 998.8 L1245.0 998.1 L1254.3 997.5 L1263.6 996.7 L1272.9 996.0 L1282.2 995.1 L1291.6 994.3 L1300.9 993.3 L1310.2 992.3 L1319.5 991.3 L1328.8 990.1" stroke="#D9B0FF" stroke-width="5.7"/>
<path d="M770.0 903.6 L1335.0 903.6" stroke="#DD7A00" stroke-width="5.7"/>
<path d="M779.5 832.6 L788.8 832.0 L798.1 831.4 L807.4 830.8 L816.7 830.3 L826.1 829.8 L835.4 829.2 L844.7 828.7 L854.0 828.3 L863.3 827.8 L872.6 827.4 L881.9 827.0 L891.2 826.6 L900.5 826.2 L909.8 825.9 L919.2 825.5 L928.5 825.2 L937.8 824.9 L947.1 824.7 L956.4 824.4 L965.7 824.2 L975.0 824.0 L984.3 823.8 L993.6 823.7 L1002.9 823.5 L1012.3 823.4 L1021.6 823.3 L1030.9 823.3 L1040.2 823.2 L1049.5 823.2 L1058.8 823.2 L1068.1 823.2 L1077.4 823.3 L1086.7 823.4 L1096.0 823.5 L1105.4 823.6 L1114.7 823.7 L1124.0 823.9 L1133.3 824.1 L1142.6 824.3 L1151.9 824.5 L1161.2 824.8 L1170.5 825.0 L1179.8 825.3 L1189.1 825.7 L1198.5 826.0 L1207.8 826.4 L1217.1 826.8 L1226.4 827.2 L1235.7 827.6 L1245.0 828.1 L1254.3 828.5 L1263.6 829.0 L1272.9 829.5 L1282.2 830.1 L1291.6 830.6 L1300.9 831.2 L1310.2 831.8 L1319.5 832.4 L1328.8 833.0" stroke="#FF00FF" stroke-width="5.7"/>
<path d="M779.5 774.7 L788.8 773.4 L798.1 772.2 L807.4 771.0 L816.7 769.8 L826.1 768.8 L835.4 767.7 L844.7 766.8 L854.0 765.8 L863.3 765.0 L872.6 764.1 L881.9 763.3 L891.2 762.6 L900.5 761.9 L909.8 761.3 L919.2 760.7 L928.5 760.1 L937.8 759.6 L947.1 759.1 L956.4 758.7 L965.7 758.3 L975.0 757.9 L984.3 757.6 L993.6 757.3 L1002.9 757.1 L1012.3 756.9 L1021.6 756.8 L1030.9 756.6 L1040.2 756.6 L1049.5 756.5 L1058.8 756.5 L1068.1 756.6 L1077.4 756.6 L1086.7 756.8 L1096.0 756.9 L1105.4 757.1 L1114.7 757.4 L1124.0 757.7 L1133.3 758.0 L1142.6 758.4 L1151.9 758.8 L1161.2 759.2 L1170.5 759.7 L1179.8 760.3 L1189.1 760.9 L1198.5 761.5 L1207.8 762.2 L1217.1 762.9 L1226.4 763.7 L1235.7 764.5 L1245.0 765.4 L1254.3 766.3 L1263.6 767.3 L1272.9 768.3 L1282.2 769.4 L1291.6 770.5 L1300.9 771.7 L1310.2 773.0 L1319.5 774.3 L1328.8 775.6" stroke="#00FF00" stroke-width="5.7"/>
<path d="M779.5 716.7 L788.8 715.1 L798.1 713.5 L807.4 712.0 L816.7 710.6 L826.1 709.2 L835.4 707.9 L844.7 706.7 L854.0 705.5 L863.3 704.4 L872.6 703.4 L881.9 702.4 L891.2 701.4 L900.5 700.6 L909.8 699.8 L919.2 699.0 L928.5 698.3 L937.8 697.6 L947.1 697.0 L956.4 696.5 L965.7 696.0 L975.0 695.6 L984.3 695.2 L993.6 694.8 L1002.9 694.5 L1012.3 694.3 L1021.6 694.1 L1030.9 694.0 L1040.2 693.9 L1049.5 693.8 L1058.8 693.8 L1068.1 693.9 L1077.4 694.0 L1086.7 694.1 L1096.0 694.3 L1105.4 694.6 L1114.7 694.9 L1124.0 695.3 L1133.3 695.7 L1142.6 696.1 L1151.9 696.7 L1161.2 697.2 L1170.5 697.9 L1179.8 698.5 L1189.1 699.3 L1198.5 700.1 L1207.8 700.9 L1217.1 701.8 L1226.4 702.8 L1235.7 703.9 L1245.0 705.0 L1254.3 706.1 L1263.6 707.4 L1272.9 708.7 L1282.2 710.0 L1291.6 711.5 L1300.9 713.0 L1310.2 714.6 L1319.5 716.2 L1328.8 717.9" stroke="#FF0000" stroke-width="6.9"/>
<path d="M779.5 716.7 L788.8 715.1 L798.1 713.5 L807.4 712.0 L816.7 710.6 L826.1 709.2 L835.4 707.9 L844.7 706.7 L854.0 705.5 L863.3 704.4 L872.6 703.4 L881.9 702.4 L891.2 701.4 L900.5 700.6 L909.8 699.8 L919.2 699.0 L928.5 698.3 L937.8 697.6 L947.1 697.0 L956.4 696.5 L965.7 696.0 L975.0 695.6 L984.3 695.2 L993.6 694.8 L1002.9 694.5 L1012.3 694.3 L1021.6 694.1 L1030.9 694.0 L1040.2 693.9 L1049.5 693.8 L1058.8 693.8 L1068.1 693.9 L1077.4 694.0 L1086.7 694.1 L1096.0 694.3 L1105.4 694.6 L1114.7 694.9 L1124.0 695.3 L1133.3 695.7 L1142.6 696.1 L1151.9 696.7 L1161.2 697.2 L1170.5 697.9 L1179.8 698.5 L1189.1 699.3 L1198.5 700.1 L1207.8 700.9 L1217.1 701.8 L1226.4 702.8 L1235.7 703.9 L1245.0 705.0 L1254.3 706.1 L1263.6 707.4 L1272.9 708.7 L1282.2 710.0 L1291.6 711.5 L1300.9 713.0 L1310.2 714.6 L1319.5 716.2 L1328.8 717.9" stroke="#0000FF" stroke-width="5.7"/>
<path d="M779.5 724.9 L788.8 723.2 L798.1 721.5 L807.4 720.0 L816.7 718.5 L826.1 717.1 L835.4 715.7 L844.7 714.4 L854.0 713.2 L863.3 712.1 L872.6 711.0 L881.9 709.9 L891.2 708.9 L900.5 708.0 L909.8 707.2 L919.2 706.3 L928.5 705.6 L937.8 704.9 L947.1 704.3 L956.4 703.7 L965.7 703.2 L975.0 702.7 L984.3 702.3 L993.6 701.9 L1002.9 701.6 L1012.3 701.3 L1021.6 701.1 L1030.9 701.0 L1040.2 700.9 L1049.5 700.8 L1058.8 700.8 L1068.1 700.9 L1077.4 701.0 L1086.7 701.1 L1096.0 701.4 L1105.4 701.6 L1114.7 702.0 L1124.0 702.3 L1133.3 702.8 L1142.6 703.3 L1151.9 703.8 L1161.2 704.5 L1170.5 705.1 L1179.8 705.9 L1189.1 706.6 L1198.5 707.5 L1207.8 708.4 L1217.1 709.4 L1226.4 710.4 L1235.7 711.5 L1245.0 712.6 L1254.3 713.9 L1263.6 715.1 L1272.9 716.5 L1282.2 717.9 L1291.6 719.4 L1300.9 721.0 L1310.2 722.6 L1319.5 724.3 L1328.8 726.1" stroke="#00FFFF" stroke-width="5.7"/>
</g>
<text transform="translate(824.45 1164.60)" font-size="25" font-weight="bold">-1</text>
<text transform="translate(923.99 1164.60)" font-size="25" font-weight="bold">-0.5</text>
<text transform="translate(1048.05 1164.60)" font-size="25" font-weight="bold">0</text>
<text transform="translate(1144.31 1164.60)" font-size="25" font-weight="bold">0.5</text>
<text transform="translate(1261.47 1164.60)" font-size="25" font-weight="bold">1</text>
<text transform="translate(744.54 693.75) scale(1.0300 1.0000)" font-size="25" font-weight="bold">2.0</text>
<text transform="translate(744.41 807.35) scale(1.0300 1.0000)" font-size="25" font-weight="bold">1.5</text>
<text transform="translate(744.54 920.25) scale(1.0300 1.0000)" font-size="25" font-weight="bold">1.0</text>
<text transform="translate(744.41 1033.85) scale(1.0300 1.0000)" font-size="25" font-weight="bold">0.5</text>
<text transform="translate(763.86 1147.85) scale(1.0300 1.0000)" font-size="25" font-weight="bold">0</text>
<text transform="translate(1014.33 1192.60)" font-size="25" font-weight="bold">X(mm)</text>
<text transform="translate(731.20 948.60) rotate(-90)" font-size="25" font-weight="bold">Z(mm)</text>
<text transform="translate(997.90 1310.90)" font-size="55.5" font-weight="normal">(e)</text>
</g>
<g id="pf">
<clipPath id="cf"><rect x="1485.7" y="668.7" width="532.9" height="471.3"/></clipPath>
<path d="M1554.6 668.7V1140.0M1652.7 668.7V1140.0M1750.5 668.7V1140.0M1848.4 668.7V1140.0M1945.9 668.7V1140.0M1485.7 786.0H2017.1M1485.7 903.6H2017.1M1485.7 1021.4H2017.1" stroke="#4c4c4c" stroke-width="1.15" fill="none"/>
<rect x="1485.7" y="668.7" width="531.4" height="471.3" fill="none" stroke="#000" stroke-width="1.4"/>
<path d="M1485.7 668.7V1140.0" stroke="#000" stroke-width="1.6" fill="none"/><path d="M1484.9 1140.0H2017.8" stroke="#000" stroke-width="1.7" fill="none"/>
<path d="M1554.6 1140.0v-4.5M1554.6 668.7v4.5M1652.7 1140.0v-4.5M1652.7 668.7v4.5M1750.5 1140.0v-4.5M1750.5 668.7v4.5M1848.4 1140.0v-4.5M1848.4 668.7v4.5M1945.9 1140.0v-4.5M1945.9 668.7v4.5M1485.7 786.0h4.5M2017.1 786.0h-4.5M1485.7 903.6h4.5M2017.1 903.6h-4.5M1485.7 1021.4h4.5M2017.1 1021.4h-4.5" stroke="#1a1a1a" stroke-width="1.25" fill="none"/>
<g clip-path="url(#cf)" fill="none" stroke-linejoin="round">
<path d="M1483.7 1055.4 L1485.0 1055.4 L1486.4 1056.6 L1502.5 1056.6 L1503.8 1057.8 L1522.6 1057.8 L1524.0 1059.0 L1544.1 1059.0 L1545.4 1060.2 L1568.2 1060.2 L1569.6 1061.4 L1596.4 1061.4 L1597.8 1062.6 L1631.3 1062.6 L1632.6 1063.8 L1681.0 1063.8 L1682.3 1065.0 L1817.8 1065.0 L1819.2 1063.8 L1868.8 1063.8 L1870.2 1062.6 L1902.4 1062.6 L1903.7 1061.4 L1930.5 1061.4 L1931.9 1060.2 L1954.7 1060.2 L1956.0 1059.0 L1976.2 1059.0 L1977.5 1057.8 L1996.3 1057.8 L1997.6 1056.6 L2015.1 1056.6 L2016.4 1055.4 L2019.1 1055.4" stroke="#D9B0FF" stroke-width="7.0"/>
<path d="M1480.0 898.2 L1609.0 898.2 L1613.0 900.2 L1886.0 900.2 L1890.0 898.2 L2020.0 898.2" stroke="#DD7A00" stroke-width="7.4"/>
<path d="M1483.7 772.1 L1499.8 772.1 L1501.1 770.9 L1524.0 770.9 L1525.3 769.7 L1550.8 769.7 L1552.1 768.5 L1581.7 768.5 L1583.0 767.3 L1619.2 767.3 L1620.6 766.1 L1674.2 766.1 L1675.6 764.9 L1825.9 764.9 L1827.2 766.1 L1880.9 766.1 L1882.2 767.3 L1918.5 767.3 L1919.8 768.5 L1949.3 768.5 L1950.7 769.7 L1976.2 769.7 L1977.5 770.9 L2000.3 770.9 L2001.7 772.1 L2019.1 772.1" stroke="#FF00FF" stroke-width="6.8"/>
<path d="M1483.7 688.8 L1489.1 688.8 L1490.4 687.6 L1519.9 687.6 L1521.3 686.4 L1556.2 686.4 L1557.5 685.2 L1599.1 685.2 L1600.4 684.0 L1663.5 684.0 L1664.9 682.8 L1836.6 682.8 L1837.9 684.0 L1899.7 684.0 L1901.0 685.2 L1944.0 685.2 L1945.3 686.4 L1978.8 686.4 L1980.2 687.6 L2009.7 687.6 L2011.0 688.8 L2019.1 688.8" stroke="#00FFFF" stroke-width="7.2"/>
<path d="M1483.7 691.7 L1506.5 691.7 L1507.9 690.5 L1544.1 690.5 L1545.4 689.3 L1591.0 689.3 L1592.4 688.1 L1658.1 688.1 L1659.5 686.9 L1842.0 686.9 L1843.3 688.1 L1909.1 688.1 L1910.4 689.3 L1954.7 689.3 L1956.0 690.5 L1992.3 690.5 L1993.6 691.7 L2019.1 691.7" stroke="#00FF00" stroke-width="7.2"/>
</g>
<text transform="translate(1536.71 1168.80) scale(1.2600 1.0000)" font-size="26.5" font-weight="bold" stroke="#000" stroke-width="0.5">-1</text>
<text transform="translate(1622.54 1168.80) scale(1.2600 1.0000)" font-size="26.5" font-weight="bold" stroke="#000" stroke-width="0.5">-0.5</text>
<text transform="translate(1742.75 1168.80) scale(1.2600 1.0000)" font-size="26.5" font-weight="bold" stroke="#000" stroke-width="0.5">0</text>
<text transform="translate(1827.95 1168.80) scale(1.2600 1.0000)" font-size="26.5" font-weight="bold" stroke="#000" stroke-width="0.5">0.5</text>
<text transform="translate(1937.65 1168.80) scale(1.2600 1.0000)" font-size="26.5" font-weight="bold" stroke="#000" stroke-width="0.5">1</text>
<text transform="translate(1437.80 678.95) scale(1.2600 1.0000)" font-size="26.5" font-weight="bold" stroke="#000" stroke-width="0.5">2.0</text>
<text transform="translate(1437.63 796.25) scale(1.2600 1.0000)" font-size="26.5" font-weight="bold" stroke="#000" stroke-width="0.5">1.5</text>
<text transform="translate(1463.17 913.85) scale(1.2600 1.0000)" font-size="26.5" font-weight="bold" stroke="#000" stroke-width="0.5">1</text>
<text transform="translate(1437.63 1031.64) scale(1.2600 1.0000)" font-size="26.5" font-weight="bold" stroke="#000" stroke-width="0.5">0.5</text>
<text transform="translate(1462.84 1150.24) scale(1.2600 1.0000)" font-size="26.5" font-weight="bold" stroke="#000" stroke-width="0.5">0</text>
<text transform="translate(1702.12 1199.80) scale(1.2200 1.0000)" font-size="26.5" font-weight="bold" stroke="#000" stroke-width="0.5">X(mm)</text>
<text transform="translate(1417.30 945.14) rotate(-90) scale(1.0400 1.0000)" font-size="26.5" font-weight="bold" stroke="#000" stroke-width="0.5">Z(mm)</text>
<text transform="translate(1683.75 1311.50)" font-size="55.5" font-weight="normal">(f)</text>
</g>
</svg>
</body></html>
